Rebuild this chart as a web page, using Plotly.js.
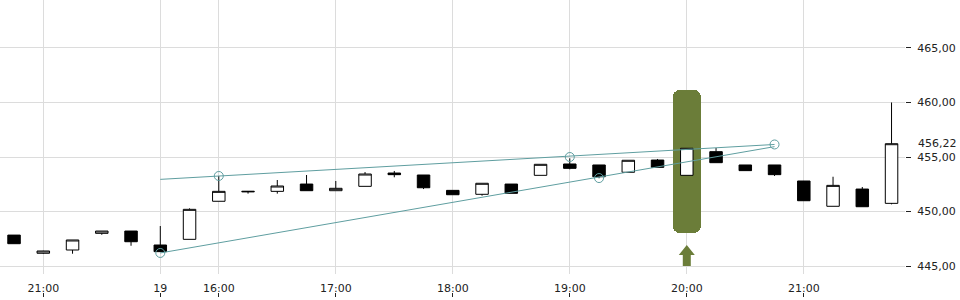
<!DOCTYPE html>
<html>
<head>
<meta charset="utf-8">
<script src="https://cdn.plot.ly/plotly-3.0.1.min.js"></script>
<style>html,body{margin:0;padding:0;background:#fff;}#chart{width:960px;height:300px;}</style>
</head>
<body>
<div id="chart"></div>
<script>
// 15-minute bars (previous evening tail, then today's session from 15:30)
const times = ['20:45','21:00','21:15','21:30','21:45',
  '15:30','15:45','16:00','16:15','16:30','16:45','17:00','17:15','17:30','17:45',
  '18:00','18:15','18:30','18:45','19:00','19:15','19:30','19:45','20:00','20:15',
  '20:30','20:45','21:00','21:15','21:30','21:45'];
const open  = [447.84,446.17,446.47,448.00,448.21,446.93,447.45,450.94,451.80,451.85,452.52,451.91,452.31,453.53,453.35,451.94,451.58,452.52,453.32,454.36,454.27,453.60,454.72,453.32,455.49,454.27,454.27,452.80,450.48,452.06,450.75];
const high  = [447.84,446.40,447.39,448.21,448.21,448.67,450.29,453.26,451.87,452.89,453.35,452.80,453.62,453.72,453.35,451.94,452.59,452.52,454.33,454.88,454.27,454.70,454.82,455.80,455.83,454.27,454.27,452.80,453.19,452.25,460.00];
const low   = [447.05,446.12,446.13,447.87,446.86,446.30,447.45,450.94,451.64,451.64,451.91,451.91,452.31,453.14,452.06,451.54,451.45,451.67,453.32,453.87,453.05,453.60,454.05,453.32,454.48,453.75,453.26,450.99,450.48,450.44,450.66];
const close = [447.05,446.38,447.39,448.21,447.23,446.32,450.20,451.85,451.85,452.34,451.91,452.13,453.44,453.38,452.18,451.54,452.59,451.67,454.33,453.96,453.19,454.70,454.05,455.80,454.48,453.75,453.38,450.99,452.40,450.44,456.22];

// axis ticks
const tickIdx    = [1, 5, 7, 11, 15, 19, 23, 27];
const tickLabels = ['21:00','19','16:00','17:00','18:00','19:00','20:00','21:00'];
const yTicks     = [445, 450, 455, 460, 465];

// trend lines (bar index, price)
const upperLineX = [5, 26];
const upperLineY = [452.95, 456.15];
const lowerLineX = [5, 26];
const lowerLineY = [446.20, 455.95];
// pivot circles
const pivotX = [5, 7, 19, 20, 26];
const pivotY = [446.20, 453.26, 455.00, 453.07, 456.15];

// signal highlight
const signalIdx  = 23;
const signalLow  = 448.03;
const signalHigh = 461.15;
const arrowBase  = 445.0;

const lastPrice = close[close.length - 1];
const xIdx = times.map((_, i) => i);

const teal = '#5f9ea0';
const olive = '#6b7d39';
const font = {family: 'DejaVu Sans', size: 11, color: '#222'};

const traces = [
  {
    type: 'bar', x: [signalIdx], y: [signalHigh - signalLow], base: [signalLow],
    width: 0.96, marker: {color: olive, cornerradius: 7, line: {width: 0}},
    hoverinfo: 'skip', showlegend: false
  },
  {
    type: 'candlestick', x: xIdx, open: open, high: high, low: low, close: close,
    whiskerwidth: 0,
    increasing: {line: {color: '#000', width: 1}, fillcolor: '#fff'},
    decreasing: {line: {color: '#000', width: 1}, fillcolor: '#000'},
    showlegend: false
  },
  {type: 'scatter', mode: 'lines', x: upperLineX, y: upperLineY, line: {color: teal, width: 1}, showlegend: false},
  {type: 'scatter', mode: 'lines', x: lowerLineX, y: lowerLineY, line: {color: teal, width: 1}, showlegend: false},
  {type: 'scatter', mode: 'markers', x: pivotX, y: pivotY,
   marker: {symbol: 'circle-open', size: 9, color: teal, line: {width: 1, color: teal}}, showlegend: false},
  {type: 'scatter', x: [], y: [], xaxis: 'x2', yaxis: 'y', showlegend: false}
];

const domBottom = 23 / 297;
const layout = {
  width: 960, height: 300,
  margin: {l: 0, r: 55, t: 0, b: 3, pad: 0},
  paper_bgcolor: '#fff', plot_bgcolor: '#fff',
  separators: ',.',
  showlegend: false,
  boxgap: 0.39,
  bargap: 0,
  xaxis: {
    range: [-0.48, 30.46], tickvals: tickIdx, ticktext: tickLabels,
    showgrid: true, gridcolor: '#dcdcdc', gridwidth: 1, zeroline: false,
    showline: false, ticks: '', tickfont: font, rangeslider: {visible: false},
    ticklabelstandoff: 6, fixedrange: true
  },
  xaxis2: {
    overlaying: 'x', anchor: 'free', position: 0,
    range: [-0.48, 30.46], tickvals: tickIdx, ticks: 'inside', ticklen: 4,
    tickcolor: '#222', tickwidth: 1, showticklabels: false, showgrid: false,
    zeroline: false, showline: false
  },
  yaxis: {
    domain: [domBottom, 1], side: 'right',
    range: [444.27, 469.40], tickvals: yTicks, tickformat: '.2f',
    ticks: 'outside', ticklen: 5, tickcolor: '#222', tickwidth: 1,
    showgrid: true, gridcolor: '#dcdcdc', gridwidth: 1, zeroline: false,
    showline: false, tickfont: font, ticklabelstandoff: 4
  },
  shapes: [{
    type: 'path', xref: 'x', yref: 'y',
    xsizemode: 'pixel', ysizemode: 'pixel',
    xanchor: signalIdx, yanchor: arrowBase,
    path: 'M -4 0 L 4 0 L 4 11 L 8 11 L 0 21 L -8 11 L -4 11 Z',
    fillcolor: olive, line: {width: 0}, layer: 'above'
  }],
  annotations: [{
    xref: 'paper', yref: 'y', x: 1, y: lastPrice, xanchor: 'left', yanchor: 'middle',
    xshift: 11, text: lastPrice.toFixed(2).replace('.', ','), showarrow: false, font: font
  }]
};

Plotly.newPlot('chart', traces, layout, {displayModeBar: false, staticPlot: true});
</script>
</body>
</html>
